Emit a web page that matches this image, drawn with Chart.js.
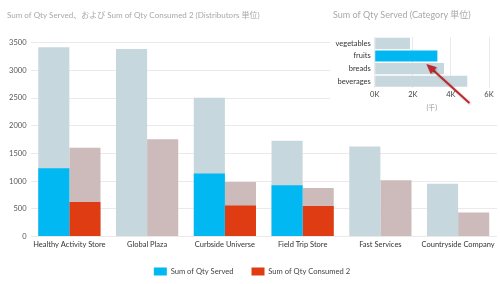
<!DOCTYPE html>
<html>
<head>
<meta charset="utf-8">
<script src="https://cdn.jsdelivr.net/npm/chart.js@4/dist/chart.umd.min.js"></script>
<style>
  html, body { margin: 0; padding: 0; background: #fff; }
  #wrap { position: relative; width: 500px; height: 284px; }
  #mainChart { position: absolute; left: 0; top: 0; }
  #insetChart { position: absolute; left: 330px; top: 0; background: #fff; }
</style>
</head>
<body>
<div id="wrap">
  <canvas id="mainChart" width="500" height="284"></canvas>
  <canvas id="insetChart" width="170" height="122"></canvas>
</div>
<script>
// distributors (main chart)
const distributors = ['Healthy Activity Store', 'Global Plaza', 'Curbside Universe', 'Field Trip Store', 'Fast Services', 'Countryside Company'];
const servedTotal = [3415, 3385, 2505, 1730, 1625, 950];
const servedFruits = [1230, null, 1135, 925, null, null];
const consumedTotal = [1600, 1755, 985, 875, 1015, 435];
const consumedFruits = [625, null, 558, 552, null, null];
const yTicks = [0, 500, 1000, 1500, 2000, 2500, 3000, 3500];

// categories (inset chart)
const categories = ['vegetables', 'fruits', 'breads', 'beverages'];
const categoryServed = [1850, 3290, 3640, 4860];
const selectedCategory = 'fruits';

const FONT = '"Segoe UI", Lato, "Noto Sans CJK JP", sans-serif';
const CYAN = '#01b8f2';
const RED = '#e03c13';
const FADED_BLUE = '#c7d7de';
const FADED_RED = '#cdbaba';

new Chart(document.getElementById('mainChart'), {
    type: 'bar',
    data: {
        labels: distributors,
        datasets: [
            { label: 'Sum of Qty Served', data: servedFruits, backgroundColor: CYAN, stack: 'served', order: 0 },
            { label: 'Sum of Qty Consumed 2', data: consumedFruits, backgroundColor: RED, stack: 'consumed', order: 0 },
            { label: 'served total', data: servedTotal, backgroundColor: FADED_BLUE, stack: 'served', order: 1 },
            { label: 'consumed total', data: consumedTotal, backgroundColor: FADED_RED, stack: 'consumed', order: 1 }
        ]
    },
    options: {
        responsive: false,
        animation: false,
        categoryPercentage: 0.8,
        barPercentage: 1,
        layout: { padding: { left: 7, right: 3, top: 0, bottom: -1.5 } },
        plugins: {
            title: {
                display: true,
                text: 'Sum of Qty Served、および Sum of Qty Consumed 2 (Distributors 単位)',
                align: 'start',
                color: '#a8a8a8',
                font: { family: FONT, size: 8, weight: 'normal' },
                padding: { top: 11, bottom: 22 }
            },
            legend: {
                position: 'bottom',
                labels: {
                    filter: item => item.datasetIndex < 2,
                    boxWidth: 13,
                    boxHeight: 8,
                    padding: 18,
                    color: '#444',
                    font: { family: FONT, size: 7.6 }
                }
            },
            tooltip: { enabled: false }
        },
        scales: {
            x: {
                grid: { display: false, drawTicks: false },
                border: { display: false },
                ticks: { color: '#333', font: { family: FONT, size: 7.5 }, padding: 3.5, maxRotation: 0, autoSkip: false },
                afterFit: s => { s.height = 13; }
            },
            y: {
                stacked: false,
                min: 0,
                max: 3500,
                afterBuildTicks: s => { s.ticks = yTicks.map(v => ({ value: v })); },
                grid: { color: '#ebe9ea', drawTicks: false },
                border: { display: false },
                ticks: { color: '#555', font: { family: FONT, size: 7.5 }, padding: 4, callback: v => String(v) },
                afterFit: s => { s.width = 23.5; }
            }
        }
    }
});

// arrow pointing at the selected category bar
const arrowPlugin = {
    id: 'arrow',
    afterDraw(chart) {
        const idx = categories.indexOf(selectedCategory);
        const bar = chart.getDatasetMeta(0).data[idx];
        if (!bar) return;
        const ctx = chart.ctx;
        const tx = bar.x - 11, ty = bar.y + 8;
        const sx = tx + 43, sy = ty + 39;
        const ang = Math.atan2(ty - sy, tx - sx);
        ctx.save();
        ctx.strokeStyle = '#c0272d';
        ctx.fillStyle = '#c0272d';
        ctx.lineWidth = 2;
        ctx.shadowColor = 'rgba(0,0,0,0.25)';
        ctx.shadowBlur = 2;
        ctx.shadowOffsetX = 1;
        ctx.shadowOffsetY = 1;
        ctx.beginPath();
        ctx.moveTo(sx, sy);
        ctx.lineTo(tx - 6 * Math.cos(ang), ty - 6 * Math.sin(ang));
        ctx.stroke();
        ctx.beginPath();
        ctx.moveTo(tx, ty);
        ctx.lineTo(tx - 10 * Math.cos(ang) + 4.5 * Math.sin(ang), ty - 10 * Math.sin(ang) - 4.5 * Math.cos(ang));
        ctx.lineTo(tx - 10 * Math.cos(ang) - 4.5 * Math.sin(ang), ty - 10 * Math.sin(ang) + 4.5 * Math.cos(ang));
        ctx.closePath();
        ctx.fill();
        ctx.restore();
    }
};

new Chart(document.getElementById('insetChart'), {
    type: 'bar',
    data: {
        labels: categories,
        datasets: [{
            label: 'Sum of Qty Served',
            data: categoryServed,
            backgroundColor: categories.map(c => c === selectedCategory ? CYAN : FADED_BLUE)
        }]
    },
    options: {
        indexAxis: 'y',
        responsive: false,
        animation: false,
        categoryPercentage: 0.88,
        barPercentage: 1,
        layout: { padding: { left: 3, right: 11, top: 0, bottom: 10 } },
        plugins: {
            title: {
                display: true,
                text: 'Sum of Qty Served (Category 単位)',
                align: 'start',
                color: '#a8a8a8',
                font: { family: FONT, size: 9, weight: 'normal' },
                padding: { top: 10, bottom: 16.2 }
            },
            legend: { display: false },
            tooltip: { enabled: false }
        },
        scales: {
            x: {
                min: 0,
                max: 6000,
                ticks: {
                    stepSize: 2000,
                    color: '#444',
                    font: { family: FONT, size: 7.5 },
                    padding: 2.5,
                    callback: v => (v / 1000) + 'K'
                },
                grid: { color: '#e9e9e9', drawTicks: false },
                border: { display: false },
                title: { display: true, text: '(千)', color: '#999', font: { family: FONT, size: 7 }, padding: { top: 2, bottom: 0 } }
            },
            y: {
                grid: { display: false, drawTicks: false },
                border: { display: false },
                ticks: { color: '#333', font: { family: FONT, size: 7.5 }, padding: 4 },
                afterFit: s => { s.width = 41.7; }
            }
        }
    },
    plugins: [arrowPlugin]
});
</script>
</body>
</html>
